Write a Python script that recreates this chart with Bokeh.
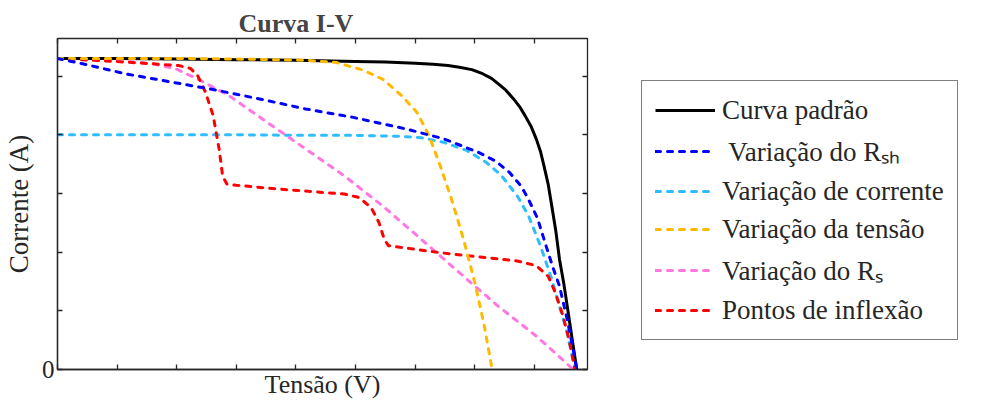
from bokeh.plotting import figure
from bokeh.models import Legend, LegendItem, LinearAxis, FixedTicker, Range1d
from bokeh.layouts import row
from bokeh.embed import file_html
from bokeh.resources import INLINE

# ---- data (tick units) ----
std_v = [0, 1, 2, 3, 4, 5, 5.5, 6.0, 6.3, 6.55, 6.74, 6.95, 7.13, 7.28, 7.39, 7.52, 7.65, 7.75, 7.84, 7.94, 8.03, 8.10, 8.16, 8.23, 8.29, 8.36, 8.42, 8.49, 8.55, 8.60, 8.65, 8.71]
std_i = [5.30, 5.30, 5.29, 5.28, 5.27, 5.25, 5.24, 5.22, 5.20, 5.18, 5.15, 5.11, 5.04, 4.96, 4.87, 4.76, 4.61, 4.48, 4.33, 4.15, 3.93, 3.72, 3.47, 3.16, 2.79, 2.35, 1.88, 1.48, 1.08, 0.74, 0.40, 0.0]

rsh_v = [0, 0.42, 1.13, 1.90, 2.61, 3.39, 4.16, 4.94, 5.84, 6.48, 7.06, 7.35, 7.58, 7.78, 7.90, 8.05, 8.16, 8.29, 8.42, 8.55, 8.65, 8.71]
rsh_i = [5.30, 5.21, 5.04, 4.90, 4.77, 4.61, 4.44, 4.30, 4.10, 3.93, 3.70, 3.55, 3.36, 3.12, 2.90, 2.58, 2.22, 1.80, 1.42, 0.85, 0.34, 0.0]

cur_v = [0, 1, 2, 3, 4, 5, 5.45, 5.8, 6.10, 6.48, 6.87, 7.19, 7.45, 7.71, 7.90, 8.10, 8.29, 8.42, 8.55, 8.68]
cur_i = [4.00, 4.00, 4.00, 4.00, 3.99, 3.99, 3.98, 3.97, 3.95, 3.87, 3.73, 3.53, 3.30, 2.96, 2.62, 2.11, 1.54, 1.08, 0.63, 0.0]

ten_v = [0, 1, 2, 3, 4.16, 4.68, 5.13, 5.45, 5.77, 6.03, 6.23, 6.42, 6.61, 6.81, 7.00, 7.16, 7.29]
ten_i = [5.30, 5.30, 5.30, 5.29, 5.27, 5.23, 5.10, 4.95, 4.67, 4.38, 3.99, 3.47, 2.90, 2.22, 1.48, 0.74, 0.0]

rs_v = [0, 0.94, 1.58, 1.97, 2.35, 2.87, 3.52, 4.16, 4.81, 5.45, 6.10, 6.74, 7.39, 8.03, 8.35, 8.65]
rs_i = [5.30, 5.27, 5.21, 5.13, 4.95, 4.67, 4.21, 3.76, 3.30, 2.79, 2.22, 1.65, 1.08, 0.57, 0.28, 0.0]

inf_v = [0, 0.94, 1.58, 2.03, 2.23, 2.35, 2.48, 2.61, 2.71, 2.77, 2.84, 3.00, 3.52, 4.16, 4.81, 5.06, 5.26, 5.39, 5.48, 5.55, 5.77, 6.42, 7.06, 7.71, 8.03, 8.23, 8.35, 8.48, 8.58, 8.68]
inf_i = [5.30, 5.25, 5.21, 5.18, 5.13, 5.01, 4.73, 4.33, 3.76, 3.30, 3.16, 3.14, 3.09, 3.04, 2.99, 2.93, 2.76, 2.51, 2.22, 2.11, 2.08, 1.99, 1.92, 1.85, 1.77, 1.59, 1.31, 0.91, 0.51, 0.0]

labels = ["Curva padrão", " Variação do Rₛₕ", "Variação de corrente",
          "Variação da tensão", "Variação do Rₛ", "Pontos de inflexão"]
colors = ["#000000", "#0000FF", "#2EBDFF", "#FFBA00", "#FF78E0", "#FF0000"]

x_ticks = [0, 1, 2, 3, 4, 5, 6, 7, 8]
y_ticks = [0, 1, 2, 3, 4, 5]

SERIF = "Liberation Serif"
LEG_FONT = "serif"
AX = "#262626"
DASH = "5 7"

series_v = [std_v, rsh_v, cur_v, ten_v, rs_v, inf_v]
series_i = [std_i, rsh_i, cur_i, ten_i, rs_i, inf_i]


def styled_line(fig, v, i, k):
    if k == 0:
        return fig.line(v, i, line_color=colors[k], line_width=3)
    return fig.line(v, i, line_color=colors[k], line_width=3, line_dash=DASH, line_cap="round")


p = figure(width=617, height=401, output_backend="svg", toolbar_location=None,
           x_range=Range1d(0, 8.89), y_range=Range1d(0, 5.64),
           min_border_left=56, min_border_top=38, min_border_bottom=30,
           min_border_right=30)
p.background_fill_color = "white"
p.border_fill_color = "white"
p.outline_line_color = AX
p.outline_line_width = 1.3
p.xgrid.visible = False
p.ygrid.visible = False

p.title.text = "Curva I-V"
p.title.text_font = SERIF
p.title.text_font_size = "26px"
p.title.text_font_style = "bold"
p.title.align = "left"
p.title.offset = 181
p.title.standoff = 2

# data: draw order (blue on top)
for k in [0, 2, 4, 5, 3, 1]:
    styled_line(p, series_v[k], series_i[k], k)

# axes
for ax in (p.xaxis[0], p.yaxis[0]):
    ax.axis_line_color = AX
    ax.axis_line_width = 1.3
    ax.major_tick_line_color = AX
    ax.major_tick_line_width = 1.3
    ax.major_tick_in = 5
    ax.major_tick_out = 0
    ax.minor_tick_line_color = None
    ax.axis_label_text_font = SERIF
    ax.axis_label_text_font_style = "normal"
    ax.axis_label_text_color = AX
    ax.axis_label_text_font_size = "27px"
    ax.major_label_text_font = SERIF
    ax.major_label_text_color = AX

p.xaxis[0].ticker = FixedTicker(ticks=x_ticks)
p.xaxis[0].major_label_overrides = {t: "" for t in x_ticks}
p.xaxis[0].major_label_text_font_size = "1px"
p.xaxis[0].major_label_standoff = 0
p.xaxis[0].axis_label = "Tensão (V)"
p.xaxis[0].axis_label_text_font_size = "26px"
p.xaxis[0].axis_label_standoff = 0

p.yaxis[0].ticker = FixedTicker(ticks=y_ticks)
p.yaxis[0].major_label_overrides = {t: ("0" if t == 0 else "") for t in y_ticks}
p.yaxis[0].major_label_text_font_size = "25px"
p.yaxis[0].major_label_standoff = 3
p.yaxis[0].axis_label = "Corrente (A)"
p.yaxis[0].axis_label_standoff = 5


def mirror(ticks):
    return LinearAxis(ticker=FixedTicker(ticks=ticks),
                      major_label_overrides={t: "" for t in ticks},
                      major_label_text_font_size="1px", major_label_standoff=0,
                      axis_line_color=None, major_tick_in=5, major_tick_out=0,
                      major_tick_line_color=AX, major_tick_line_width=1.3,
                      minor_tick_line_color=None)


p.add_layout(mirror(x_ticks), "above")
p.add_layout(mirror(y_ticks), "right")

# ---- legend panel (same series, view scrolled away so only the key shows) ----
q = figure(width=349, height=401, output_backend="svg", toolbar_location=None,
           x_range=Range1d(-20, -10), y_range=Range1d(-20, -10), min_border=0,
           x_axis_location=None, y_axis_location=None)
q.xgrid.visible = False
q.ygrid.visible = False
q.outline_line_color = None
q.background_fill_color = "white"
q.border_fill_color = "white"

leg_r = [styled_line(q, series_v[k], series_i[k], k) for k in range(6)]
items = [LegendItem(label=lab, renderers=[r]) for lab, r in zip(labels, leg_r)]
legend = Legend(items=items, location=(24, 29), margin=0, padding=13,
                glyph_width=60, glyph_height=32, label_height=32, spacing=6,
                label_standoff=7, label_text_font=LEG_FONT, label_text_font_size="27px",
                label_text_color=AX, border_line_color="#000000", border_line_width=1.3,
                background_fill_color="white", background_fill_alpha=1.0)
q.add_layout(legend, "center")

layout = row(p, q)
open("out.html", "w").write(file_html(layout, INLINE))
